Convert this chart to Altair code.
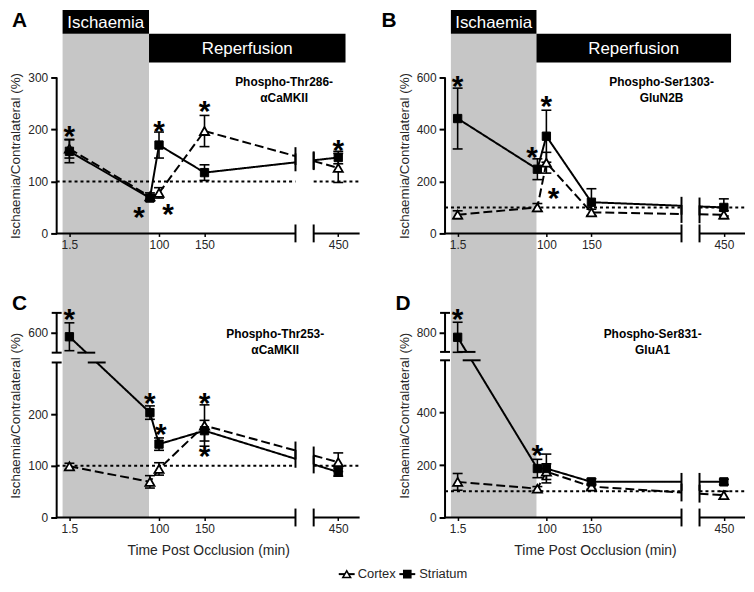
import altair as alt
import pandas as pd

# ---------------- data ----------------
TIME = [1.5, 90, 100, 150, 450]
SERIES = ["Cortex", "Striatum"]

A_CORTEX = [163, 71, 78, 197, 126]
A_CORTEX_ERR = [18, 7, 10, 30, 28]
A_STRIATUM = [158, 68, 170, 117, 146]
A_STRIATUM_ERR = [22, 6, 25, 15, 12]

B_CORTEX = [72, 100, 272, 81, 72]
B_CORTEX_ERR = [15, 15, 40, 12, 15]
B_STRIATUM = [442, 247, 374, 120, 100]
B_STRIATUM_ERR = [117, 40, 100, 52, 33]

C_CORTEX = [99, 69, 94, 178, 107]
C_CORTEX_ERR = [6, 12, 12, 40, 18]
C_STRIATUM = [580, 203, 142, 168, 88]
C_STRIATUM_ERR = [70, 13, 12, 20, 8]

D_CORTEX = [136, 110, 175, 118, 85]
D_CORTEX_ERR = [32, 8, 30, 10, 15]
D_STRIATUM = [775, 187, 187, 136, 136]
D_STRIATUM_ERR = [77, 35, 55, 12, 10]

X_TICKS = [1.5, 100, 150, 450]
Y_TICKS = {"A": [0, 100, 200, 300], "B": [0, 200, 400, 600],
           "C": [0, 100, 200, 600], "D": [0, 200, 400, 800]}

TITLES = {"A": ["Phospho-Thr286-", "\u03b1CaMKII"],
          "B": ["Phospho-Ser1303-", "GluN2B"],
          "C": ["Phospho-Thr253-", "\u03b1CaMKII"],
          "D": ["Phospho-Ser831-", "GluA1"]}

# significance asterisks (time, value)
STAR_T = {"A": [1.5, 78, 110, 100, 150, 450], "B": [1.5, 84, 100, 108],
          "C": [1.5, 90, 102, 150, 150], "D": [1.5, 90]}
STAR_V = {"A": [200, 44, 50, 210, 248, 174], "B": [592, 321, 516, 164],
          "C": [706, 235, 175, 235, 133], "D": [905, 263]}

ISCHAEMIA = (-6, 89)
REPERFUSION = (89, 305)

VALUES = {
    "A": {"Cortex": (A_CORTEX, A_CORTEX_ERR), "Striatum": (A_STRIATUM, A_STRIATUM_ERR)},
    "B": {"Cortex": (B_CORTEX, B_CORTEX_ERR), "Striatum": (B_STRIATUM, B_STRIATUM_ERR)},
    "C": {"Cortex": (C_CORTEX, C_CORTEX_ERR), "Striatum": (C_STRIATUM, C_STRIATUM_ERR)},
    "D": {"Cortex": (D_CORTEX, D_CORTEX_ERR), "Striatum": (D_STRIATUM, D_STRIATUM_ERR)},
}

# ---------------- broken-axis geometry ----------------
X_DOMAIN = [-12.5, 320.5]
X_GAP = (250, 270)
X_FAR = (270, 450, 297)          # real 270..450 drawn over 270..297
Y_GAP = {"C": (300, 319), "D": (600, 632)}
Y_UPPER = {"C": ((500, 700), (319, 396)), "D": ((700, 900), (632, 781))}
Y_SEGS = {"A": [(0, 300)], "B": [(0, 600)], "C": [(0, 300), (319, 396)], "D": [(0, 600), (632, 781)]}
GEOM = {"A": dict(width=305, height=157, ydom=300, top=True),
        "B": dict(width=302, height=157, ydom=600, top=True),
        "C": dict(width=305, height=206, ydom=396, top=False),
        "D": dict(width=302, height=206, ydom=781, top=False)}
LETTER_POS = {"A": (-45, -68), "B": (-64, -68), "C": (-45, -20), "D": (-50, -20)}
TITLE_POS = {"A": (229, 0), "B": (218, 0), "C": (220, 16), "D": (209, 16)}

BAND = "#c6c6c6"
INK = "#262626"


def fx(t):
    if t <= X_GAP[0]:
        return t
    a, b, d = X_FAR
    return a + (t - a) * (d - a) / (b - a)


def fy(p, v):
    if p in Y_UPPER and v > Y_GAP[p][0]:
        (v0, v1), (d0, d1) = Y_UPPER[p]
        return d0 + (v - v0) * (d1 - d0) / (v1 - v0)
    return v


def split_line(pts, gaps):
    polys, marks = [], []
    cur = None
    for (x0, y0), (x1, y1) in zip(pts[:-1], pts[1:]):
        excl = []
        for axis, a, b in gaps:
            p0, p1 = (x0, x1) if axis == "x" else (y0, y1)
            if p1 == p0:
                continue
            ta, tb = (a - p0) / (p1 - p0), (b - p0) / (p1 - p0)
            lo, hi = max(min(ta, tb), 0.0), min(max(ta, tb), 1.0)
            if lo < hi:
                excl.append((lo, hi, axis))
        excl.sort()
        pieces, s, sa = [], 0.0, None
        for lo, hi, axis in excl:
            if lo > s:
                pieces.append((s, lo, sa, axis))
            s, sa = hi, axis
        if s < 1:
            pieces.append((s, 1.0, sa, None))
        if not pieces:
            cur = None
        for s, e, sa, ea in pieces:
            P = lambda u: (x0 + u * (x1 - x0), y0 + u * (y1 - y0))
            if s == 0 and cur is not None:
                cur.append(P(e))
            else:
                cur = [P(s), P(e)]
                polys.append(cur)
                if sa:
                    marks.append((P(s), sa))
            if ea:
                marks.append((P(e), ea))
                cur = None
    return polys, marks


def panel_chart(p, with_legend=False):
    g = GEOM[p]
    W, H = g["width"], g["height"]
    xs = alt.Scale(domain=X_DOMAIN, nice=False, zero=False)
    ys = alt.Scale(domain=[0, g["ydom"]], nice=False, zero=False)

    x_kw = dict(values=[fx(t) for t in X_TICKS], format=".1~f",
                labelExpr=f"abs(datum.value - {fx(450)}) < 0.01 ? '450' : datum.label",
                domain=False, ticks=True, tickSize=3, tickWidth=1.5, tickColor="black",
                labelFontSize=12, labelColor=INK, labelPadding=3, grid=False, zindex=2)
    if g["top"]:
        x_kw["title"] = None
    else:
        x_kw.update(title="Time Post Occlusion (min)", titleFontSize=14, titleFontWeight="normal",
                    titleColor=INK, titlePadding=9)
    x_axis = alt.Axis(**x_kw)
    expr = "datum.label"
    for v in Y_TICKS[p]:
        d = fy(p, v)
        if abs(d - v) > 0.01:
            expr = f"abs(datum.value - {d}) < 0.01 ? '{v}' : ({expr})"
    y_axis = alt.Axis(values=[fy(p, v) for v in Y_TICKS[p]], labelExpr=expr, domain=False,
                      tickSize=6, tickWidth=2, tickColor="black", labelFontSize=12, labelColor=INK,
                      labelPadding=3, grid=False, title="Ischaemia/Contralateral (%)",
                      titleFontSize=13.5, titleFontWeight="normal", titleColor=INK, titleX=-34,
                      zindex=2)

    def XN(f):
        return alt.X(f, type="quantitative", scale=xs, axis=x_axis)

    def YN(f):
        return alt.Y(f, type="quantitative", scale=ys, axis=y_axis)

    one = pd.DataFrame({"k": [0]})
    layers = []

    # ischaemia shading
    band_df = pd.DataFrame({"x0": [ISCHAEMIA[0]], "x1": [ISCHAEMIA[1]]})
    top_px, bot_px = (-44, H + 57) if g["top"] else (-23, H)
    layers.append(alt.Chart(band_df).mark_rect(color=BAND).encode(
        x=XN("x0"), x2="x1", y=alt.value(top_px), y2=alt.value(bot_px)))

    if g["top"]:
        isch = pd.DataFrame({"x0": [ISCHAEMIA[0]], "x1": [ISCHAEMIA[1]],
                             "xm": [(ISCHAEMIA[0] + ISCHAEMIA[1]) / 2], "label": ["Ischaemia"]})
        rep = pd.DataFrame({"x0": [REPERFUSION[0]], "x1": [REPERFUSION[1]],
                            "xm": [(REPERFUSION[0] + REPERFUSION[1]) / 2], "label": ["Reperfusion"]})
        layers.append(alt.Chart(isch).mark_rect(color="black").encode(
            x=XN("x0"), x2="x1", y=alt.value(-68), y2=alt.value(-44)))
        layers.append(alt.Chart(rep).mark_rect(color="black").encode(
            x=XN("x0"), x2="x1", y=alt.value(-44), y2=alt.value(-15)))
        layers.append(alt.Chart(isch).mark_text(color="white", fontSize=17, baseline="middle").encode(
            x=XN("xm"), y=alt.value(-55), text="label:N"))
        layers.append(alt.Chart(rep).mark_text(color="white", fontSize=17, baseline="middle").encode(
            x=XN("xm"), y=alt.value(-29), text="label:N"))

    # broken x axis + dotted 100% reference line
    xseg = pd.DataFrame({"x0": [X_DOMAIN[0], X_GAP[1]], "x1": [X_GAP[0], X_DOMAIN[1]],
                         "zero": [0, 0], "ref": [100, 100]})
    layers.append(alt.Chart(xseg).mark_rule(color="black", strokeWidth=2, strokeDash=[3, 3]).encode(
        x=XN("x0"), x2="x1", y=YN("ref")))
    layers.append(alt.Chart(xseg).mark_rule(color="black", strokeWidth=2).encode(
        x=XN("x0"), x2="x1", y=YN("zero")))
    xb = pd.DataFrame({"x": list(X_GAP), "zero": [0, 0]})
    layers.append(alt.Chart(xb).mark_rule(color="black", strokeWidth=2, yOffset=-9, y2Offset=9).encode(
        x=XN("x"), y=YN("zero"), y2="zero"))

    # (broken) y axis
    yseg = pd.DataFrame({"x": [X_DOMAIN[0]] * len(Y_SEGS[p]),
                         "y0": [s[0] for s in Y_SEGS[p]], "y1": [s[1] for s in Y_SEGS[p]]})
    layers.append(alt.Chart(yseg).mark_rule(color="black", strokeWidth=2).encode(
        x=XN("x"), y=YN("y0"), y2="y1"))
    if p in Y_GAP:
        yb = pd.DataFrame({"x": [X_DOMAIN[0]] * 3, "y": [Y_GAP[p][0], Y_GAP[p][1], g["ydom"]]})
        layers.append(alt.Chart(yb).mark_rule(color="black", strokeWidth=2, xOffset=-5, x2Offset=5).encode(
            x=XN("x"), x2="x", y=YN("y")))

    # data lines (split at the axis breaks)
    gaps = [("x", X_GAP[0], X_GAP[1])]
    if p in Y_GAP:
        gaps.append(("y", Y_GAP[p][0], Y_GAP[p][1]))
    line_rows, vmarks, hmarks, err_rows, pt_rows = [], [], [], [], []
    for s in SERIES:
        vals, errs = VALUES[p][s]
        pts = [(fx(t), fy(p, v)) for t, v in zip(TIME, vals)]
        polys, marks = split_line(pts, gaps)
        for k, poly in enumerate(polys):
            for i, (x, y) in enumerate(poly):
                line_rows.append({"series": s, "seg": f"{s}{k}", "ord": i, "x": x, "y": y})
        for (x, y), axis in marks:
            (vmarks if axis == "x" else hmarks).append({"x": x, "y": y})
        for t, v, e in zip(TIME, vals, errs):
            err_rows.append({"series": s, "x": fx(t), "lo": fy(p, v - e), "hi": fy(p, v + e)})
            pt_rows.append({"series": s, "x": fx(t), "y": fy(p, v)})
    ldf = pd.DataFrame(line_rows)
    layers.append(alt.Chart(ldf).mark_line(color="black", strokeWidth=2).encode(
        x=XN("x"), y=YN("y"),
        detail="seg:N", order="ord:Q",
        strokeDash=alt.StrokeDash("series:N", scale=alt.Scale(domain=SERIES, range=[[9, 4], [1, 0]]),
                                  legend=None)))
    if vmarks:
        layers.append(alt.Chart(pd.DataFrame(vmarks)).mark_rule(
            color="black", strokeWidth=2, yOffset=-9, y2Offset=9).encode(x=XN("x"), y=YN("y"), y2="y"))
    if hmarks:
        layers.append(alt.Chart(pd.DataFrame(hmarks)).mark_rule(
            color="black", strokeWidth=2, xOffset=-9, x2Offset=9).encode(x=XN("x"), x2="x", y=YN("y")))

    # error bars
    edf = pd.DataFrame(err_rows)
    layers.append(alt.Chart(edf).mark_rule(color="black", strokeWidth=1.6).encode(
        x=XN("x"), y=YN("lo"), y2="hi"))
    for f in ["lo", "hi"]:
        layers.append(alt.Chart(edf).mark_rule(color="black", strokeWidth=1.6, xOffset=-5, x2Offset=5).encode(
            x=XN("x"), x2="x", y=YN(f)))

    # markers
    pdf = pd.DataFrame(pt_rows)
    layers.append(alt.Chart(pdf[pdf.series == "Cortex"]).mark_point(
        shape="triangle-up", filled=True, fill="white", stroke="black", strokeWidth=1.8,
        size=85, opacity=1).encode(x=XN("x"), y=YN("y")))
    layers.append(alt.Chart(pdf[pdf.series == "Striatum"]).mark_point(
        shape="square", filled=True, fill="black", stroke="black", strokeWidth=1,
        size=70, opacity=1).encode(x=XN("x"), y=YN("y")))

    # asterisks
    sdf = pd.DataFrame({"x": [fx(t) for t in STAR_T[p]], "y": [fy(p, v) for v in STAR_V[p]]})
    layers.append(alt.Chart(sdf).mark_text(text="*", fontSize=30, fontWeight="bold", color="black",
                                           baseline="alphabetic", dy=17).encode(x=XN("x"), y=YN("y")))

    # panel title and letter
    tx, ty = TITLE_POS[p]
    layers.append(alt.Chart(one).mark_text(text=TITLES[p], fontSize=12, fontWeight="bold", color="black",
                                           baseline="top", lineHeight=16).encode(
        x=alt.value(tx), y=alt.value(ty)))
    lx, ly = LETTER_POS[p]
    layers.append(alt.Chart(one).mark_text(text=p, fontSize=21, fontWeight="bold", color="black",
                                           align="left", baseline="top").encode(
        x=alt.value(lx), y=alt.value(ly)))

    if with_legend:
        leg = pd.DataFrame({"name": SERIES})
        ly0 = H + 57
        for name, x0, x1, xm, xt, shape, fill, size in [
                ("Cortex", 284, 300, 292, 303, "triangle-up", "white", 60),
                ("Striatum", 345, 361, 353, 365, "square", "black", 50)]:
            d = leg[leg.name == name]
            layers.append(alt.Chart(d).mark_rule(color="black", strokeWidth=2).encode(
                x=alt.value(x0), x2=alt.value(x1), y=alt.value(ly0)))
            layers.append(alt.Chart(d).mark_point(shape=shape, filled=True, fill=fill, stroke="black",
                                                  strokeWidth=1.6, size=size, opacity=1).encode(
                x=alt.value(xm), y=alt.value(ly0)))
            layers.append(alt.Chart(d).mark_text(align="left", baseline="middle", fontSize=13,
                                                 color=INK).encode(
                x=alt.value(xt), y=alt.value(ly0), text="name:N"))

    return alt.layer(*layers).properties(width=W, height=H)


chart = alt.concat(panel_chart("A"), panel_chart("B"), panel_chart("C", with_legend=True), panel_chart("D"),
                   columns=2, spacing={"row": 80, "column": 86}, bounds="flush").properties(padding=0)
chart = chart.configure(font="Liberation Sans").configure_view(stroke=None)

chart.save("out.html", embed_options={"renderer": "svg", "actions": False})
